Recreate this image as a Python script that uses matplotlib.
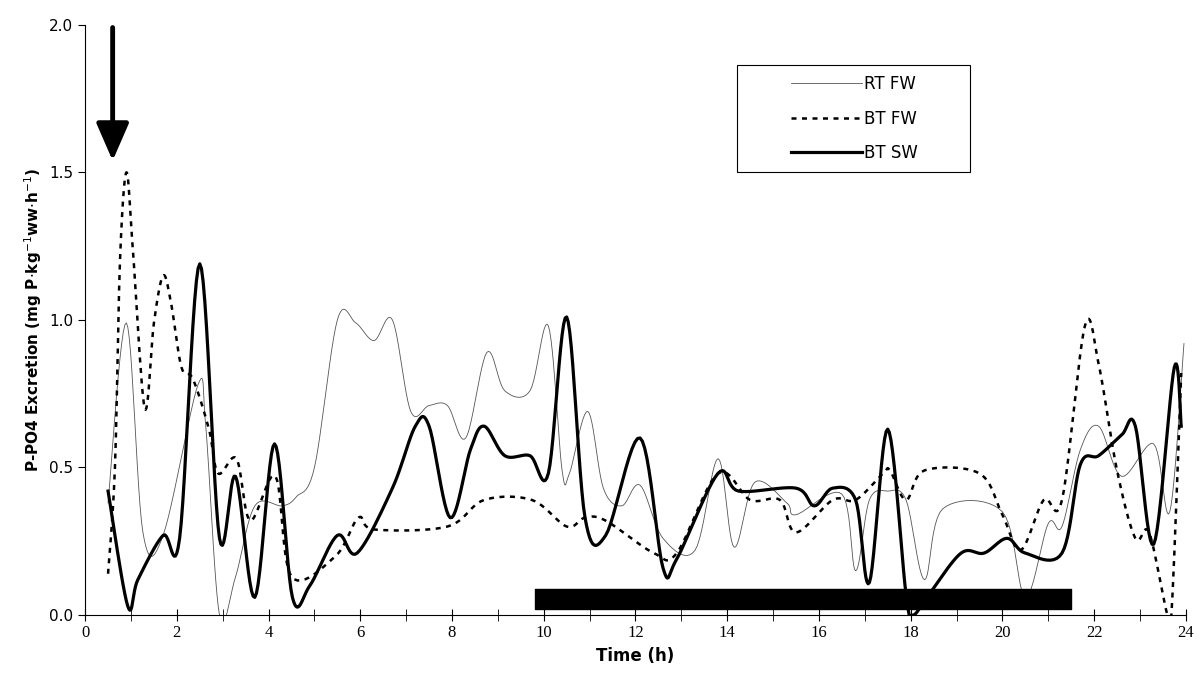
import matplotlib.pyplot as plt
import numpy as np
from matplotlib.patches import Rectangle

# values (time in h, P-PO4 excretion)
rt_fw_t = [0.5, 0.9, 1.26, 1.7, 2.46, 2.63, 2.93, 3.28, 3.7, 4.3, 4.6, 5.0, 5.5, 5.9, 6.3, 6.7,
           7.1, 7.5, 7.9, 8.3, 8.76, 9.15, 9.7, 10.1, 10.4, 10.56, 10.96, 11.3, 11.7, 12.1, 12.6,
           13.3, 13.8, 14.15, 14.6, 15.3, 15.5, 16.5, 16.8, 17.1, 17.5, 17.9, 18.3, 18.7, 20.0,
           20.5, 21.0, 21.3, 21.7, 22.1, 22.6, 23.3, 23.65, 23.96]
rt_fw_v = [0.38, 0.99, 0.28, 0.27, 0.78, 0.64, 0.0, 0.13, 0.37, 0.37, 0.40, 0.50, 1.0, 0.99, 0.93, 1.0,
           0.69, 0.71, 0.71, 0.60, 0.89, 0.76, 0.76, 0.98, 0.49, 0.48, 0.69, 0.43, 0.37, 0.44, 0.26,
           0.22, 0.53, 0.23, 0.45, 0.38, 0.34, 0.41, 0.15, 0.39, 0.42, 0.39, 0.12, 0.36, 0.35,
           0.06, 0.31, 0.30, 0.56, 0.64, 0.47, 0.58, 0.35, 0.92]

bt_fw_t = [0.5, 0.65, 0.76, 0.9, 1.04, 1.3, 1.5, 1.7, 1.87, 2.1, 2.35, 2.7, 2.9, 3.3, 3.6, 4.15,
           4.5, 5.46, 5.96, 6.3, 7.9, 8.7, 9.74, 10.5, 10.9, 11.35, 12.4, 12.9, 13.8, 14.5, 15.15,
           15.5, 16.3, 16.8, 17.4, 17.55, 17.9, 18.3, 19.5, 20.0, 20.4, 20.9, 21.3, 21.8, 22.1,
           22.5, 22.9, 23.2, 23.6, 23.7, 23.9]
bt_fw_v = [0.14, 0.50, 1.20, 1.50, 1.24, 0.70, 0.99, 1.15, 1.06, 0.84, 0.80, 0.63, 0.48, 0.53, 0.32, 0.47,
           0.13, 0.20, 0.33, 0.29, 0.30, 0.39, 0.39, 0.30, 0.33, 0.32, 0.21, 0.21, 0.48, 0.39, 0.39,
           0.28, 0.39, 0.39, 0.48, 0.49, 0.39, 0.49, 0.48, 0.34, 0.22, 0.39, 0.39, 0.98, 0.85,
           0.49, 0.26, 0.28, 0.0, 0.04, 0.82]

bt_sw_t = [0.5, 0.93, 1.15, 1.7, 2.06, 2.5, 2.93, 3.28, 3.7, 4.13, 4.52, 4.9, 5.5, 5.93, 6.7, 7.2,
           7.5, 7.96, 8.4, 8.7, 9.15, 9.7, 10.1, 10.5, 10.9, 11.35, 12.1, 12.6, 12.9, 13.8, 14.25,
           15.5, 15.9, 16.3, 16.8, 17.1, 17.5, 17.9, 18.05, 18.4, 19.1, 19.6, 20.1, 20.5, 21.3,
           21.7, 22.1, 22.6, 22.9, 23.3, 23.75, 23.9]
bt_sw_v = [0.42, 0.03, 0.12, 0.27, 0.26, 1.19, 0.26, 0.47, 0.06, 0.58, 0.06, 0.10, 0.27, 0.21, 0.43, 0.64,
           0.64, 0.33, 0.56, 0.64, 0.54, 0.54, 0.48, 1.01, 0.33, 0.27, 0.60, 0.16, 0.19, 0.48, 0.42,
           0.43, 0.37, 0.43, 0.39, 0.11, 0.63, 0.07, 0.0, 0.07, 0.21, 0.21, 0.26, 0.21, 0.21,
           0.51, 0.54, 0.61, 0.64, 0.24, 0.84, 0.64]

dark_start, dark_end = 9.8, 21.5


def smooth(t, v, n=12):
    # catmull-rom curve through the points, like the excel smoothed line
    t = np.asarray(t, float)
    v = np.asarray(v, float)
    pts = np.column_stack([t, v])
    pts = np.vstack([pts[0], pts, pts[-1]])
    out = []
    s = np.linspace(0, 1, n, endpoint=False)[:, None]
    for i in range(1, len(pts) - 2):
        p0, p1, p2, p3 = pts[i - 1], pts[i], pts[i + 1], pts[i + 2]
        out.append(0.5 * (2 * p1 + (-p0 + p2) * s + (2 * p0 - 5 * p1 + 4 * p2 - p3) * s ** 2
                          + (-p0 + 3 * p1 - 3 * p2 + p3) * s ** 3))
    out.append(pts[-2][None, :])
    out = np.vstack(out)
    return out[:, 0], out[:, 1]


fig = plt.figure(figsize=(11.99, 6.88), dpi=100)
ax = fig.add_axes([0.071, 0.106, 0.918, 0.858])

x, y = smooth(rt_fw_t, rt_fw_v)
ax.plot(x, y, color='#555555', lw=0.6, label='RT FW')
x, y = smooth(bt_fw_t, bt_fw_v)
ax.plot(x, y, color='black', lw=1.8, ls=(0, (2, 2.2)), label='BT FW')
x, y = smooth(bt_sw_t, bt_sw_v)
ax.plot(x, y, color='black', lw=2.3, label='BT SW')

ax.fill_between([dark_start, dark_end], 0.02, 0.09, color='black', zorder=5)
ax.annotate('', xy=(0.6, 1.53), xytext=(0.6, 2.0),
            arrowprops=dict(arrowstyle='-|>,head_width=1.0,head_length=2.3', color='black', lw=3.5))

ax.set_xlim(0, 24)
ax.set_ylim(0, 2.0)
ax.set_xticks(np.arange(0, 25, 2))
ax.set_xticks(np.arange(1, 25, 2), minor=True)
ax.set_yticks(np.arange(0, 2.01, 0.5))
ax.set_yticklabels(['%.1f' % v for v in np.arange(0, 2.01, 0.5)], fontsize=11)
ax.set_xticklabels([str(v) for v in range(0, 25, 2)], family='Liberation Serif', fontsize=12)
ax.tick_params(axis='x', which='both', direction='inout', length=8)
ax.tick_params(axis='y', direction='out', length=5)
for s in ['top', 'right']:
    ax.spines[s].set_visible(False)

ax.set_xlabel('Time (h)', fontsize=12, fontweight='bold')
ax.set_ylabel('P-PO4 Excretion (mg P$\\cdot$kg$^{-1}$ww$\\cdot$h$^{-1}$)', fontsize=11, fontweight='bold')

# legend box drawn separately, it is wider than the entries
ax.add_patch(Rectangle((0.592, 0.751), 0.212, 0.181, transform=ax.transAxes,
                       fill=False, edgecolor='black', lw=0.8, zorder=6))
ax.legend(loc='upper left', bbox_to_anchor=(0.632, 0.932), fontsize=12, frameon=False,
          handlelength=4.3, labelspacing=1.0, borderpad=0.6, handletextpad=0.1, borderaxespad=0)

fig.savefig('out.png')
